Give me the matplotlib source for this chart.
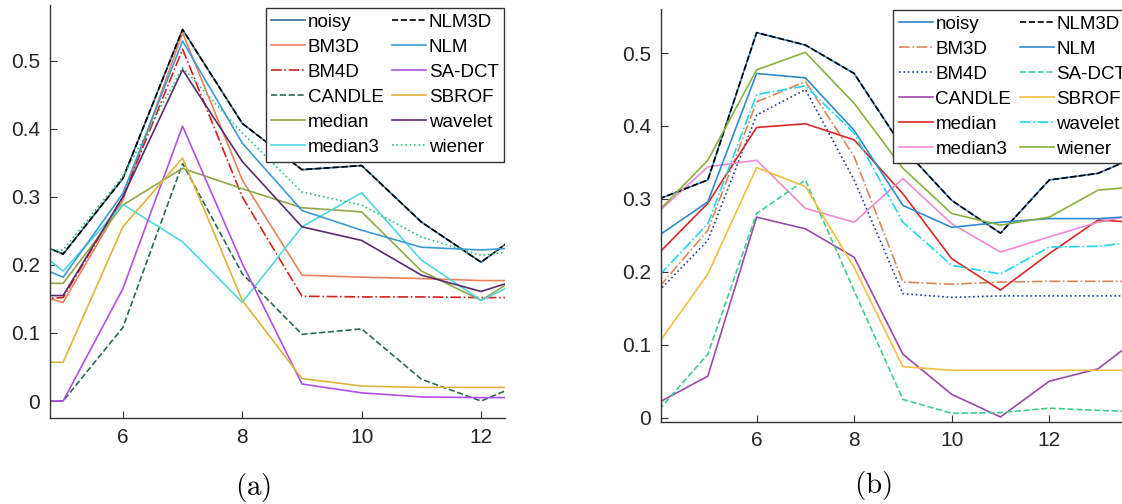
import numpy as np
import matplotlib
matplotlib.use('Agg')
import matplotlib.pyplot as plt

plt.rcParams['font.family'] = ['Liberation Sans', 'DejaVu Sans']
plt.rcParams['mathtext.fontset'] = 'cm'

# method names, in legend order (column-wise)
methods = ['noisy', 'BM3D', 'BM4D', 'CANDLE', 'median', 'median3',
           'NLM3D', 'NLM', 'SA-DCT', 'SBROF', 'wavelet', 'wiener']

# ---- panel (a) ----
x_a = [4, 5, 6, 7, 8, 9, 10, 11, 12, 13]
noisy_a   = [0.252, 0.216, 0.327, 0.546, 0.408, 0.340, 0.346, 0.263, 0.204, 0.269]
bm3d_a    = [0.168, 0.145, 0.295, 0.541, 0.325, 0.185, 0.182, 0.180, 0.177, 0.177]
bm4d_a    = [0.148, 0.152, 0.300, 0.517, 0.300, 0.154, 0.153, 0.153, 0.152, 0.152]
candle_a  = [0.000, 0.000, 0.108, 0.349, 0.187, 0.098, 0.106, 0.032, 0.000, 0.037]
median_a  = [0.173, 0.173, 0.288, 0.342, 0.312, 0.284, 0.278, 0.191, 0.148, 0.203]
median3_a = [0.260, 0.191, 0.289, 0.234, 0.145, 0.256, 0.306, 0.207, 0.148, 0.190]
nlm3d_a   = [0.252, 0.216, 0.327, 0.546, 0.408, 0.340, 0.346, 0.263, 0.204, 0.269]
nlm_a     = [0.218, 0.182, 0.305, 0.529, 0.379, 0.280, 0.251, 0.226, 0.222, 0.227]
sadct_a   = [0.000, 0.000, 0.165, 0.404, 0.202, 0.025, 0.012, 0.006, 0.005, 0.005]
sbrof_a   = [0.057, 0.057, 0.256, 0.357, 0.148, 0.033, 0.022, 0.020, 0.020, 0.020]
wavelet_a = [0.155, 0.155, 0.300, 0.487, 0.352, 0.256, 0.236, 0.185, 0.161, 0.189]
wiener_a  = [0.218, 0.222, 0.330, 0.490, 0.394, 0.307, 0.288, 0.241, 0.214, 0.226]

# ---- panel (b) ----
x_b = [4, 5, 6, 7, 8, 9, 10, 11, 12, 13, 14]
noisy_b   = [0.300, 0.326, 0.528, 0.511, 0.472, 0.370, 0.298, 0.253, 0.326, 0.335, 0.364]
bm3d_b    = [0.179, 0.257, 0.433, 0.461, 0.358, 0.186, 0.183, 0.186, 0.187, 0.187, 0.187]
bm4d_b    = [0.174, 0.243, 0.415, 0.450, 0.326, 0.170, 0.165, 0.167, 0.167, 0.167, 0.167]
candle_b  = [0.021, 0.057, 0.275, 0.259, 0.220, 0.087, 0.032, 0.001, 0.050, 0.067, 0.118]
median_b  = [0.226, 0.294, 0.398, 0.403, 0.381, 0.307, 0.218, 0.175, 0.225, 0.271, 0.267]
median3_b = [0.283, 0.344, 0.353, 0.287, 0.268, 0.328, 0.266, 0.227, 0.248, 0.268, 0.282]
nlm3d_b   = [0.300, 0.326, 0.528, 0.511, 0.472, 0.370, 0.298, 0.253, 0.326, 0.335, 0.364]
nlm_b     = [0.250, 0.296, 0.472, 0.466, 0.394, 0.291, 0.261, 0.268, 0.273, 0.273, 0.277]
sadct_b   = [0.011, 0.087, 0.280, 0.326, 0.174, 0.025, 0.006, 0.007, 0.013, 0.010, 0.008]
sbrof_b   = [0.103, 0.197, 0.343, 0.317, 0.206, 0.070, 0.065, 0.065, 0.065, 0.065, 0.065]
wavelet_b = [0.195, 0.266, 0.443, 0.455, 0.390, 0.268, 0.209, 0.197, 0.234, 0.235, 0.243]
wiener_b  = [0.284, 0.353, 0.477, 0.501, 0.431, 0.342, 0.280, 0.264, 0.275, 0.312, 0.318]

series_a = [noisy_a, bm3d_a, bm4d_a, candle_a, median_a, median3_a,
            nlm3d_a, nlm_a, sadct_a, sbrof_a, wavelet_a, wiener_a]
series_b = [noisy_b, bm3d_b, bm4d_b, candle_b, median_b, median3_b,
            nlm3d_b, nlm_b, sadct_b, sbrof_b, wavelet_b, wiener_b]

style_a = [('#36688a', '-'), ('#e8825a', '-'), ('#d62020', '-.'), ('#2a6a55', '--'),
           ('#8fa84a', '-'), ('#4fd8e0', '-'), ('k', '--'), ('#3a9bd5', '-'),
           ('#b050e8', '-'), ('#e0b43a', '-'), ('#5a2c6c', '-'), ('#2fbf7a', ':')]
style_b = [('#3b7bbf', '-'), ('#d9875a', '-.'), ('#2040a0', ':'), ('#9a4aa8', '-'),
           ('#d82828', '-'), ('#f08ad0', '-'), ('k', '--'), ('#2f8ccc', '-'),
           ('#3ecf8e', '--'), ('#f0c040', '-'), ('#20d8e8', '-.'), ('#8ab040', '-')]

W, H = 1122, 504
fig = plt.figure(figsize=(W / 100, H / 100), dpi=100)
ax_a = fig.add_axes([50 / W, 1 - 418.3 / H, 455 / W, 413.3 / H])
ax_b = fig.add_axes([661 / W, 1 - 421.7 / H, 485.8 / W, 412.4 / H])


def draw(ax, x, series, styles, xlim, ylim):
    for name, y, (c, ls) in zip(methods, series, styles):
        ax.plot(x, y, color=c, ls=ls, lw=1.2, label=name)
    ax.set_xlim(*xlim)
    ax.set_ylim(*ylim)
    ax.set_xticks([6, 8, 10, 12])
    ax.set_yticks(np.arange(0, 0.51, 0.1))
    ax.set_yticklabels(['0', '0.1', '0.2', '0.3', '0.4', '0.5'])
    for s in ['top', 'right']:
        ax.spines[s].set_visible(False)
    for s in ['left', 'bottom']:
        ax.spines[s].set_color('#333333')
        ax.spines[s].set_linewidth(1.0)
    ax.tick_params(direction='in', length=5, width=0.8, colors='#333333',
                   labelcolor='#262626', labelsize=15, pad=7)


draw(ax_a, x_a, series_a, style_a, (4.78, 12.4), (-0.0254, 0.582))
draw(ax_b, x_b, series_b, style_b, (4.04, 14.0), (-0.0055, 0.560))

leg_kw = dict(ncol=2, fontsize=13.5, handlelength=1.8, handletextpad=0.15,
              columnspacing=0.45, labelspacing=0.42, borderpad=0.3,
              borderaxespad=0, fancybox=False, framealpha=1,
              edgecolor='#333333', bbox_transform=fig.transFigure)
lg_a = ax_a.legend(loc='upper right', bbox_to_anchor=(504.3 / W, 1 - 8.3 / H), **leg_kw)
lg_b = ax_b.legend(loc='upper left', bbox_to_anchor=(893.3 / W, 1 - 10 / H), **leg_kw)
for lg in (lg_a, lg_b):
    lg.get_frame().set_linewidth(1.0)

fig.text(253 / W, 1 - 487 / H, r'$\mathrm{(a)}$', ha='center', va='center', fontsize=21)
fig.text(873 / W, 1 - 485 / H, r'$\mathrm{(b)}$', ha='center', va='center', fontsize=21)

fig.savefig('out.png', dpi=100)
